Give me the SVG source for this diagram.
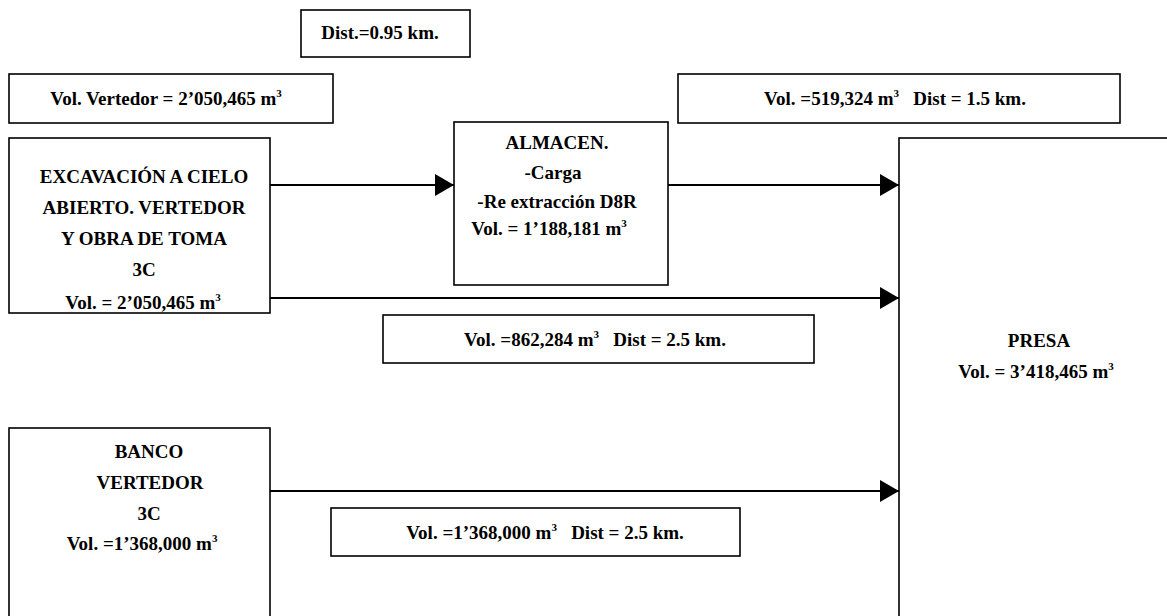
<svg xmlns="http://www.w3.org/2000/svg" width="1167" height="616" viewBox="0 0 1167 616">
<defs>
<marker id="ah" markerWidth="20" markerHeight="24" refX="19" refY="11" orient="auto" markerUnits="userSpaceOnUse">
<path d="M0,0 L19,11 L0,22 Z" fill="#000"/>
</marker>
<style>
rect{fill:#fff;stroke:#000;stroke-width:1.6}
text{font-family:"Liberation Serif","Times New Roman",serif;font-weight:bold;font-size:19px;fill:#000;text-anchor:middle}
.sup{font-size:11px}
.conn line{stroke:#000;stroke-width:2;marker-end:url(#ah)}
</style>
</defs>
<rect x="0" y="0" width="1167" height="616" style="fill:#fff;stroke:none"/>
<g class="conn" id="connectors">
<line x1="270" y1="185" x2="454" y2="185"/>
<line x1="668" y1="185" x2="899" y2="185"/>
<line x1="270" y1="298" x2="899" y2="298"/>
<line x1="270" y1="491" x2="899" y2="491"/>
</g>
<g id="dist095">
<rect x="301" y="10" width="169" height="47"/>
<text x="380" y="39">Dist.=0.95 km.</text>
</g>
<g id="volVertedor">
<rect x="9" y="74" width="324" height="49"/>
<text x="166" y="105">Vol. Vertedor = 2’050,465 m<tspan class="sup" dy="-8">3</tspan></text>
</g>
<g id="excavacion">
<rect x="9" y="138" width="261" height="175"/>
<text x="144" y="183">EXCAVACIÓN A CIELO</text>
<text x="144" y="214">ABIERTO. VERTEDOR</text>
<text x="144" y="245">Y OBRA DE TOMA</text>
<text x="144" y="276">3C</text>
<text x="143" y="309">Vol. = 2’050,465 m<tspan class="sup" dy="-8">3</tspan></text>
</g>
<g id="almacen">
<rect x="454" y="122" width="214" height="163"/>
<text x="557" y="149">ALMACEN.</text>
<text x="553" y="179">-Carga</text>
<text x="557" y="208">-Re extracción D8R</text>
<text x="549" y="235">Vol. = 1’188,181 m<tspan class="sup" dy="-8">3</tspan></text>
</g>
<g id="vol519">
<rect x="678" y="74" width="442" height="49"/>
<text x="895" y="105" xml:space="preserve">Vol. =519,324 m<tspan class="sup" dy="-8">3</tspan><tspan dy="8">   Dist = 1.5 km.</tspan></text>
</g>
<g id="presa">
<rect x="899" y="138" width="300" height="500"/>
<text x="1039" y="347">PRESA</text>
<text x="1036" y="378">Vol. = 3’418,465 m<tspan class="sup" dy="-8">3</tspan></text>
</g>
<g id="vol862">
<rect x="383" y="315" width="431" height="48"/>
<text x="595" y="346" xml:space="preserve">Vol. =862,284 m<tspan class="sup" dy="-8">3</tspan><tspan dy="8">   Dist = 2.5 km.</tspan></text>
</g>
<g id="banco">
<rect x="9" y="428" width="261" height="210"/>
<text x="149" y="458">BANCO</text>
<text x="150" y="489">VERTEDOR</text>
<text x="149" y="520">3C</text>
<text x="142" y="550">Vol. =1’368,000 m<tspan class="sup" dy="-8">3</tspan></text>
</g>
<g id="vol1368">
<rect x="331" y="508" width="409" height="48"/>
<text x="545" y="539" xml:space="preserve">Vol. =1’368,000 m<tspan class="sup" dy="-8">3</tspan><tspan dy="8">   Dist = 2.5 km.</tspan></text>
</g>
</svg>
